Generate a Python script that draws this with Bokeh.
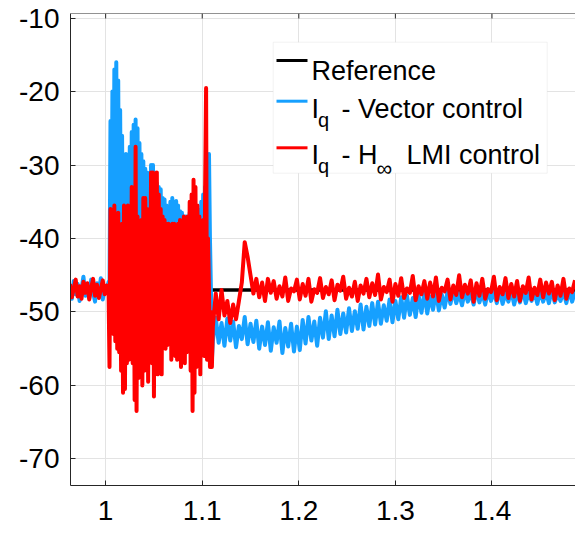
import numpy as np
from bokeh.plotting import figure
from bokeh.models import Range1d, FixedTicker, BoxAnnotation, Label, Span
from bokeh.embed import file_html
from bokeh.resources import INLINE

# ---------------- data ----------------
x_ticks = [1.0, 1.1, 1.2, 1.3, 1.4]
x_tick_labels = ["1", "1.1", "1.2", "1.3", "1.4"]
y_ticks = [-70, -60, -50, -40, -30, -20, -10]
y_tick_labels = ["-70", "-60", "-50", "-40", "-30", "-20", "-10"]

ref_time = [0.95, 1.5]
ref_current = [-47.0, -47.0]

# sampling of the recorded signals: (start time, step) per segment
seg_start = [0.963, 1.004, 1.114]
seg_step = [0.002, 0.001, 0.003]

vector_pre = [-46.5, -48.2, -45.8, -47.6, -46.2, -48.5, -46.9, -45.2, -47.8, -46.4,
              -48.1, -45.6, -47.3, -48.6, -46.1, -47.5, -45.4, -48.3, -46.8, -47.1, -45.9]
vector_transient = [-47, -24, -44, -20, -43, -17, -40, -16, -42, -18.5,
                    -44, -22.5, -45, -26, -44, -29, -46, -28.5, -45, -29,
                    -44, -27.5, -46, -25.5, -45, -24.5, -44, -23.8, -46, -25,
                    -45, -27, -44, -28.5, -46, -29.5, -45, -30.5, -44, -31,
                    -46, -31.5, -45, -30, -44, -30, -46, -31, -45, -32.5,
                    -44, -33, -46, -33.3, -45, -34.5, -44, -34.7, -46, -35.5,
                    -45, -35.6, -44, -35, -46, -34.5, -45, -35, -44, -34.9,
                    -46, -35.5, -45, -36.3, -44, -36.5, -46, -37, -45, -37,
                    -44, -37, -46, -36.5, -45, -36, -44, -36, -46, -36.5,
                    -45, -36, -44, -36.5, -46, -35, -45, -34, -44, -33,
                    -46, -31, -44, -28.5, -40, -47, -56.5, -54]
vector_post = [-50.8, -54.2, -51.5, -54.6, -50.9, -53.9, -51.3, -54.8, -51.9, -53.7,
               -50.7, -54.4, -51.6,
               -54.1, -51.2, -55.0, -52.0, -54.5, -51.4, -55.3, -52.1, -54.2, -51.3,
               -55.6, -52.2, -54.7, -51.6, -55.4, -52.0,
               -55.2, -51.1, -54.3, -50.7, -53.9, -51.3, -54.6, -50.8, -53.5, -49.9,
               -53.7, -50.5, -53.3, -49.7, -53.0, -50.2, -52.8,
               -49.5, -52.6, -49.9, -52.3, -49.0, -52.4, -49.3, -51.9, -48.8, -51.7,
               -48.6, -51.6, -49.1, -51.2, -48.3, -51.4, -48.5,
               -51.0, -48.0, -50.8, -47.8, -50.4, -48.1, -50.7, -47.7, -50.1, -47.4,
               -50.2, -47.9, -49.7, -47.2, -49.8, -47.6, -49.4,
               -47.2, -48.9, -47.0, -48.8, -47.5, -49.1, -47.1, -48.6, -47.3, -49.0,
               -46.9, -48.7, -47.4, -49.0, -47.1, -48.5, -47.2, -48.8, -47.0, -48.9,
               -47.5, -48.6, -47.1, -49.0, -47.3, -48.7, -47.0, -48.8, -47.4, -48.5,
               -47.2, -48.9, -47.1, -48.6, -47.3, -48.8, -47.0, -48.7, -47.5, -48.5,
               -47.2, -48.8, -47.1, -48.6, -47.3]

lmi_pre = [-46.2, -48.0, -46.8, -45.6, -47.9, -46.5, -48.2, -45.9, -47.4, -46.1,
           -48.3, -46.7, -45.5, -47.8, -46.3, -48.1, -46.9, -45.7, -47.6, -46.4, -47.2]
lmi_transient = [-57.5, -36, -52, -36.5, -53, -35.5, -54, -37, -55, -36.5,
                 -55.5, -38.5, -58, -38, -61, -35.5, -60.5, -36, -57, -35.5,
                 -56.5, -36.5, -55, -33, -57, -36, -62, -27.5, -63.5, -37,
                 -59, -38, -56, -37.5, -60, -34.5, -58, -34.5, -55, -36,
                 -59.5, -36.5, -56, -31, -57, -31, -61.5, -32, -58, -31,
                 -58.5, -34, -55, -36, -58.5, -37, -54, -37.5, -55, -38,
                 -54.5, -38, -53, -38.5, -56.5, -38, -55, -38, -56, -38.5,
                 -56.5, -38, -55, -37.5, -57.5, -38, -56, -37, -57, -37.5,
                 -55.5, -37, -54, -35, -58, -34, -63.5, -32, -61, -33,
                 -57.5, -35.5, -56, -37, -58.5, -38, -55, -37.5, -56, -33,
                 -19.5, -56.5, -40, -47, -57.5, -50, -57.5, -52]
lmi_post = [-47.5, -51, -47, -50.5, -48.5, -51.5, -49, -51, -48.5, -46,
            -40.5, -42.5, -45, -47.5, -45.5, -48, -46, -48.5, -45.5,
            -47.4, -45.8, -48.2, -46.5, -47.9, -45.3, -48.5, -46.8, -47.2, -45.6,
            -48.3, -46.2, -47.8, -45.5, -48.6, -46.9, -47.4, -45.4, -48.1, -46.6,
            -47.6, -45.7, -48.4, -46.3, -47.1, -45.2, -48.2, -46.7, -47.9, -45.9,
            -48.5, -46.4, -47.5, -45.5, -48.0, -46.1, -47.7, -44.9, -48.3, -46.6,
            -47.3, -45.6, -48.6, -46.2, -47.8, -45.4, -48.1, -46.8, -47.4, -45.1,
            -48.4, -46.5, -47.6, -45.8, -48.2, -46.0, -47.9, -45.3, -48.5, -46.7,
            -47.2, -45.6, -48.3, -46.4, -47.7, -45.0, -48.0, -46.3, -47.5, -45.7,
            -48.6, -46.1, -47.8, -45.5, -48.2, -46.9, -47.3, -45.2, -48.4, -46.6,
            -47.6, -45.4, -48.1, -46.2, -47.9, -45.8, -48.5, -46.5, -47.4, -45.3,
            -48.3, -46.7, -47.7, -45.6, -48.0, -46.0, -47.5, -45.9, -48.4, -46.4,
            -47.8, -45.5, -48.2, -46.8, -47.3, -45.7]


def sample_times(*segments):
    parts = []
    for start, step, vals in zip(seg_start, seg_step, segments):
        parts.append(start + step * np.arange(len(vals)))
    return np.concatenate(parts)


vector_t = sample_times(vector_pre, vector_transient, vector_post)
vector_v = np.concatenate([vector_pre, vector_transient, vector_post])
lmi_t = sample_times(lmi_pre, lmi_transient, lmi_post)
lmi_v = np.concatenate([lmi_pre, lmi_transient, lmi_post])

# ---------------- figure ----------------
X0, X1 = 0.9636, 1.4865
Y0, Y1 = -73.63, -9.37
FONT = "Liberation Sans"
AXIS_COLOR = "#262626"
BLUE = "#16a0ff"
RED = "#ff0000"

# frame position in page pixels (used to place the hand-drawn legend)
F_LEFT, F_RIGHT, F_TOP, F_BOTTOM = 70.0, 575.0, 13.0, 485.0

p = figure(width=575, height=534, output_backend="svg", toolbar_location=None,
           x_range=Range1d(X0, X1), y_range=Range1d(Y0, Y1),
           min_border_left=70, min_border_right=0, min_border_top=13,
           min_border_bottom=49)
p.outline_line_color = None
p.background_fill_color = "white"

xa = p.xaxis[0]
xa.ticker = FixedTicker(ticks=x_ticks)
xa.major_label_overrides = {t: s for t, s in zip(x_ticks, x_tick_labels)}
ya = p.yaxis[0]
ya.ticker = FixedTicker(ticks=y_ticks)
ya.major_label_overrides = {t: s for t, s in zip(y_ticks, y_tick_labels)}
for ax in (xa, ya):
    ax.major_tick_in = 5
    ax.major_tick_out = 0
    ax.minor_tick_in = 0
    ax.minor_tick_out = 0
    ax.axis_line_color = AXIS_COLOR
    ax.major_tick_line_color = AXIS_COLOR
    ax.major_label_text_font = FONT
    ax.major_label_text_font_size = "28px"
    ax.major_label_text_color = "black"
xa.major_label_standoff = 15
ya.major_label_standoff = 11

p.xgrid.ticker = FixedTicker(ticks=x_ticks)
p.ygrid.ticker = FixedTicker(ticks=y_ticks)
p.xgrid.grid_line_color = "#e3e3e3"
p.ygrid.grid_line_color = "#e3e3e3"


def px2x(px):
    return X0 + (px - F_LEFT) / (F_RIGHT - F_LEFT) * (X1 - X0)


def py2y(py):
    return Y1 - (py - F_TOP) / (F_BOTTOM - F_TOP) * (Y1 - Y0)


# top frame line with inward ticks
p.add_layout(Span(location=Y1, dimension="width", line_color=AXIS_COLOR, line_width=1))
p.segment(x0=x_ticks, x1=x_ticks, y0=[Y1] * len(x_ticks),
          y1=[py2y(F_TOP + 5)] * len(x_ticks), line_color=AXIS_COLOR, line_width=1)

# signals
p.line(ref_time, ref_current, line_color="black", line_width=3.5)
p.line(vector_t, vector_v, line_color=BLUE, line_width=4, line_join="round")
p.line(lmi_t, lmi_v, line_color=RED, line_width=4, line_join="round")

# ---------------- legend (drawn by hand for subscripts) ----------------
p.add_layout(BoxAnnotation(left=px2x(272.7), right=px2x(546.7),
                           top=py2y(41.7), bottom=py2y(172.7),
                           fill_color="white", fill_alpha=1.0,
                           line_color="#d6d6d6", line_width=1, level="annotation"))

leg_colors = ["black", BLUE, RED]
leg_rows = [60.0, 100.7, 147.3]
p.segment(x0=[px2x(276)] * 3, x1=[px2x(307)] * 3,
          y0=[py2y(r) for r in leg_rows], y1=[py2y(r) for r in leg_rows],
          line_color=leg_colors, line_width=3, level="overlay")


def add_text(px, py, txt, size="27px", font=FONT):
    p.add_layout(Label(x=px2x(px), y=py2y(py), text=txt, text_font=font,
                       text_font_size=size, text_color="black",
                       text_baseline="alphabetic", text_align="left",
                       level="overlay"))


add_text(311.0, 70.5, "Reference")
add_text(311.0, 108.5, "I")
add_text(317.5, 119.5, "q", size="20px")
add_text(341.0, 108.5, "- Vector control")
add_text(311.0, 154.5, "I")
add_text(317.5, 165.5, "q", size="20px")
add_text(341.0, 154.5, "- H")
add_text(376.0, 168.0, "\u221e", size="22px")
add_text(406.0, 154.5, "LMI control")

open("out.html", "w").write(file_html(p, INLINE))
